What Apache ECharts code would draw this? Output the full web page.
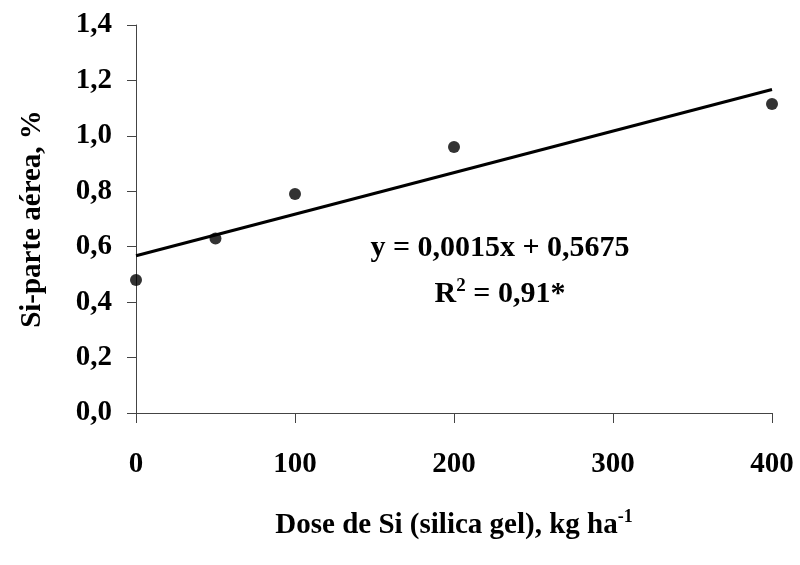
<!DOCTYPE html>
<html>
<head>
<meta charset="utf-8">
<script src="https://cdn.jsdelivr.net/npm/echarts@6/dist/echarts.min.js"></script>
<style>
  html, body { margin: 0; padding: 0; background: #fff; }
  #chart { width: 800px; height: 565px; }
</style>
</head>
<body>
<div id="chart"></div>
<script>
// dados
const doses = [0, 50, 100, 200, 400];
const siParteAerea = [0.48, 0.63, 0.79, 0.96, 1.115];
const trendSlope = 0.0015;
const trendIntercept = 0.5675;
const trendRange = [0, 400];

const font = '"Liberation Serif", "Times New Roman", serif';
const fs = 29;

const chart = echarts.init(document.getElementById('chart'));

const points = doses.map((d, i) => [d, siParteAerea[i]]);
const trend = trendRange.map((x) => [x, trendIntercept + trendSlope * x]);

chart.setOption({
    animation: false,
    grid: { left: 136, right: 28, top: 25, bottom: 152 },
    xAxis: {
        type: 'value',
        min: 0,
        max: 400,
        interval: 100,
        name: '{t|Dose de Si (silica gel), kg ha}{sup|-1}',
        nameLocation: 'middle',
        nameGap: 95,
        nameTextStyle: {
            rich: {
                t: { fontFamily: font, fontWeight: 'bold', fontSize: fs, color: '#000', verticalAlign: 'bottom' },
                sup: { fontFamily: font, fontWeight: 'bold', fontSize: 18, color: '#000', verticalAlign: 'top', padding: [0, 0, 14, 0] }
            }
        },
        axisLine: { lineStyle: { color: '#444', width: 1 } },
        axisTick: { show: true, length: 10, lineStyle: { color: '#444' } },
        axisLabel: { fontFamily: font, fontWeight: 'bold', fontSize: fs, color: '#000', margin: 37 },
        splitLine: { show: false }
    },
    yAxis: {
        type: 'value',
        min: 0,
        max: 1.4,
        interval: 0.2,
        name: 'Si-parte aérea, %',
        nameLocation: 'middle',
        nameGap: 89,
        nameTextStyle: { fontFamily: font, fontWeight: 'bold', fontSize: fs, color: '#000' },
        axisLine: { show: true, lineStyle: { color: '#444', width: 1 } },
        axisTick: { show: true, length: 9, lineStyle: { color: '#444' } },
        axisLabel: {
            fontFamily: font, fontWeight: 'bold', fontSize: fs, color: '#000', margin: 24,
            formatter: (v) => v.toFixed(1).replace('.', ',')
        },
        splitLine: { show: false }
    },
    series: [
        {
            type: 'line',
            data: trend,
            symbol: 'none',
            lineStyle: { color: '#000', width: 3 },
            z: 2
        },
        {
            type: 'scatter',
            data: points,
            symbol: 'circle',
            symbolSize: 12,
            itemStyle: { color: '#000' },
            z: 3
        }
    ],
    graphic: [
        {
            type: 'text',
            x: 500,
            y: 248,
            style: {
                text: 'y = 0,0015x + 0,5675',
                font: 'bold 30px ' + font,
                fill: '#000',
                align: 'center',
                verticalAlign: 'middle'
            }
        },
        {
            type: 'text',
            x: 500,
            y: 293,
            style: {
                text: '{t|R}{sup|2}{t| = 0,91*}',
                align: 'center',
                verticalAlign: 'middle',
                rich: {
                    t: { font: 'bold 30px ' + font, fill: '#000', verticalAlign: 'bottom' },
                    sup: { font: 'bold 19px ' + font, fill: '#000', verticalAlign: 'top', padding: [0, 0, 14, 0] }
                }
            }
        }
    ]
});
</script>
</body>
</html>
